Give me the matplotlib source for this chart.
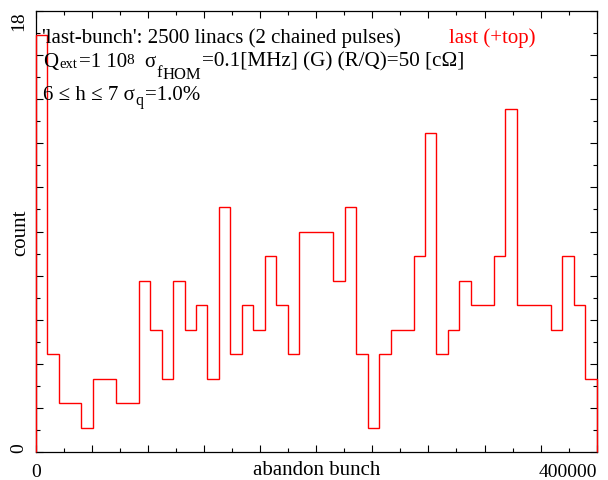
import numpy as np
import matplotlib
matplotlib.use("Agg")
import matplotlib.pyplot as plt
from matplotlib.ticker import FixedLocator, MultipleLocator, FuncFormatter

plt.rcParams['font.family'] = ['Liberation Serif', 'DejaVu Serif']

# histogram of abandon bunch, 49 bins over 0..400000
counts = [17, 4, 2, 2, 1, 3, 3, 2, 2, 7, 5, 3, 7, 5, 6, 3, 10, 4, 6, 5,
          8, 6, 4, 9, 9, 9, 7, 10, 4, 1, 4, 5, 5, 8, 13, 4, 5, 7, 6, 6,
          8, 14, 6, 6, 6, 5, 8, 6, 3]
x_max = 400000
y_max = 18
xtick_labels = {0: '0', 400000: '400000'}
ytick_labels = {0: '0', 18: '18'}

edges = np.linspace(0, x_max, len(counts) + 1)

W, H = 608, 481
fig = plt.figure(figsize=(W/100, H/100), dpi=100)
ax = fig.add_axes([35.7/W, 1-453.3/H, 561/W, 441.6/H])

ax.stairs(counts, edges, color='red', lw=1.0, zorder=3, clip_on=False)

ax.set_xlim(0, x_max)
ax.set_ylim(0, y_max)

ax.xaxis.set_major_locator(FixedLocator(np.linspace(0, x_max, 11)))
ax.xaxis.set_minor_locator(MultipleLocator(x_max/20))
ax.yaxis.set_major_locator(FixedLocator(np.linspace(0, y_max, 11)))
ax.yaxis.set_minor_locator(MultipleLocator(y_max/20))

def pick(labels):
    def f(v, p):
        for k, s in labels.items():
            if abs(v - k) < 1e-6 * max(1, abs(k)):
                return s
        return ''
    return FuncFormatter(f)

ax.xaxis.set_major_formatter(pick(xtick_labels))
ax.yaxis.set_major_formatter(pick(ytick_labels))

ax.tick_params(which='both', direction='in', top=True, right=True, width=0.8)
ax.tick_params(which='major', length=5, labelsize=14)
ax.tick_params(which='minor', length=3)
ax.tick_params(axis='x', pad=8)
ax.tick_params(axis='y', pad=6)
for sp in ax.spines.values():
    sp.set_linewidth(0.9)

yt = ax.yaxis.get_major_ticks()
for t in yt:
    t.label1.set_rotation(90)
yt[0].label1.set_va('bottom')
yt[-1].label1.set_va('top')
xt = ax.xaxis.get_major_ticks()
xt[-1].label1.set_ha('right')

ax.set_xlabel('abandon bunch', fontsize=15)
ax.xaxis.set_label_coords(0.5, -0.018)
ax.set_ylabel('count', fontsize=15)
ax.yaxis.set_label_coords(-0.009, 0.5)

renderer = fig.canvas.get_renderer()

# annotation text (pixel coords from top-left)
def ftext(x, y, s, size=15, **kw):
    return fig.text(x/W, 1-y/H, s, fontsize=size, va='baseline', **kw)

def chain(x, y, pieces):
    # pieces: (text, size, baseline shift, gap before)
    for s, size, dy, gap in pieces:
        x += gap
        t = ftext(x, y + dy, s, size)
        x += t.get_window_extent(renderer).width
    return x

ftext(42, 43.5, "'last-bunch': 2500 linacs (2 chained pulses)")
ftext(449, 43.5, "last (+top)", color='red')

chain(43.5, 66.7, [("Q", 15, 0, 0), ("ext", 10.5, 1.3, 1),
                   ("=1 10", 15, 0, 1.5), ("8", 11, -2.3, -1)])
chain(144.5, 66.7, [("σ", 15, 0, 0), ("f", 12, 10, 1), ("HOM", 12, 12.6, 0),
                    ("=0.1[MHz] (G) (R/Q)=50 [cΩ]", 15.2, 0, 1.5)])

chain(43, 100, [("6 ≤ h ≤ 7 σ", 15, 0, 0), ("q", 11.5, 5, 1),
                ("=1.0%", 15, 0, 1)])

fig.savefig('out.png', dpi=100)
